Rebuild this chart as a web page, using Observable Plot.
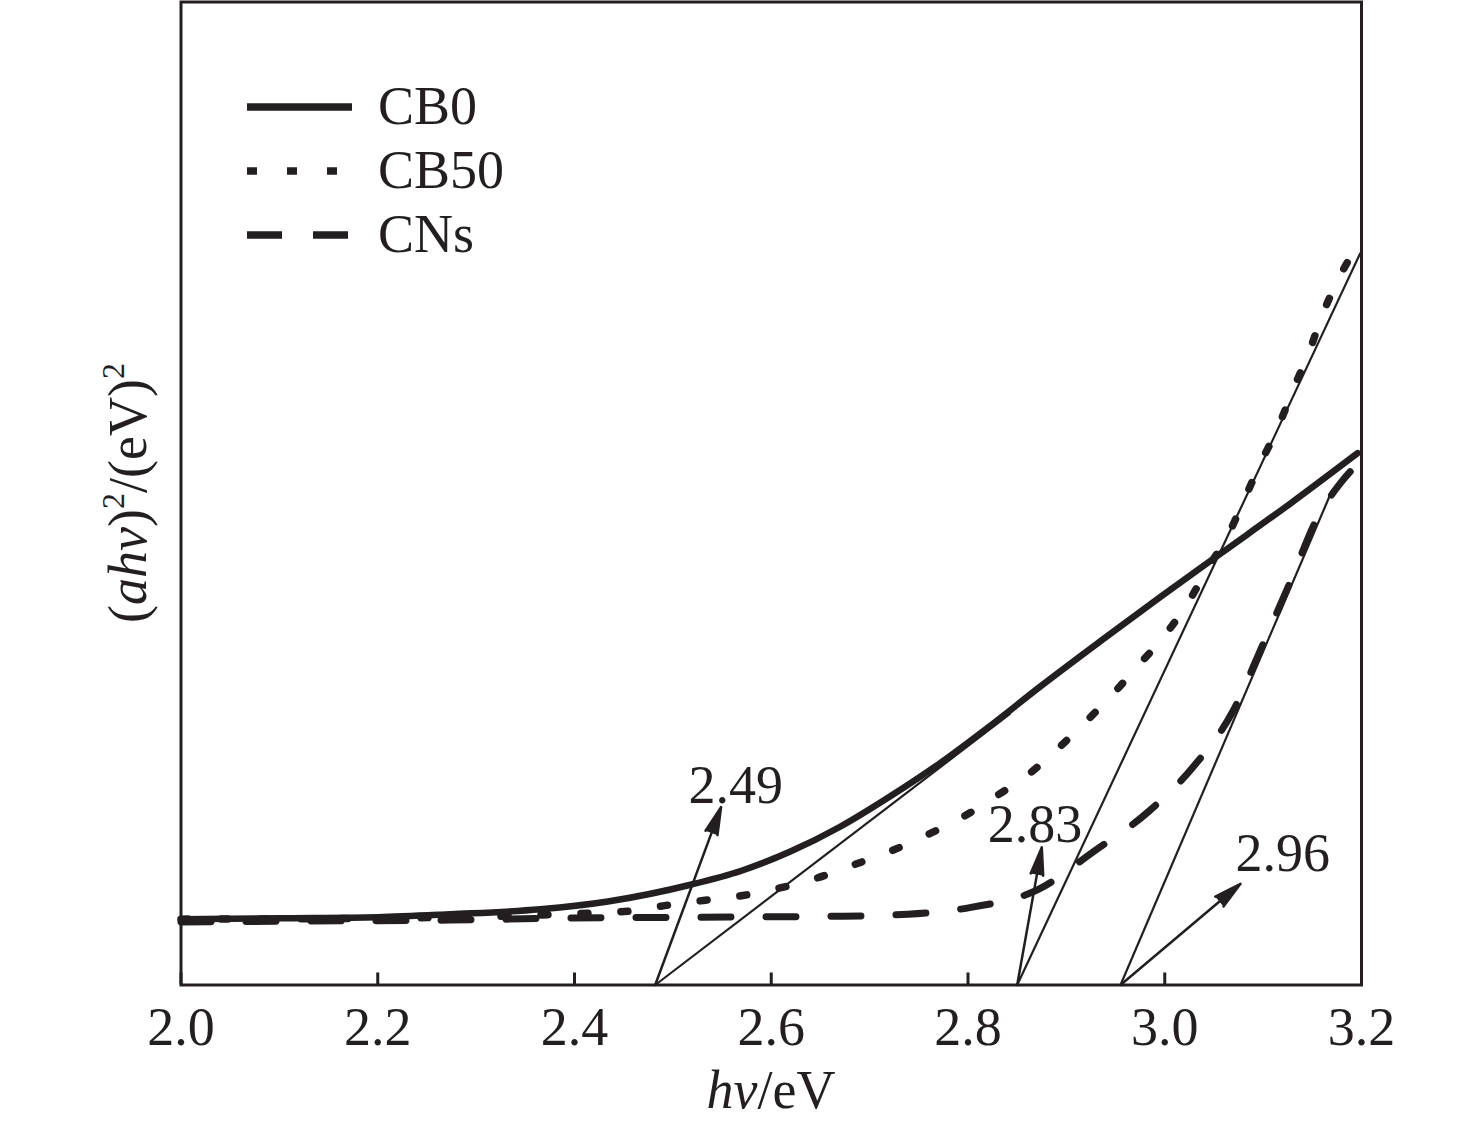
<!DOCTYPE html>
<html lang="en">
<head>
<meta charset="utf-8">
<script src="https://cdn.jsdelivr.net/npm/d3@7"></script>
<script src="https://cdn.jsdelivr.net/npm/@observablehq/plot@0.6"></script>
<style>
html,body{margin:0;padding:0;background:#fff;}
#chart{width:1476px;height:1127px;}
</style>
</head>
<body>
<div id="chart"></div>
<script>
const ink = "#231f20";
const serif = "'Liberation Serif', 'Times New Roman', Times, serif";

// x-axis tick values (eV)
const xTicks = [2.0, 2.2, 2.4, 2.6, 2.8, 3.0, 3.2];

// CB0 (solid)
const cb0Energy = [2.000, 2.101, 2.200, 2.274, 2.365, 2.434, 2.518, 2.569, 2.620, 2.670, 2.721, 2.772, 2.823, 2.874, 2.935, 2.996, 3.057, 3.128, 3.196];
const cb0Value  = [6.7, 6.8, 6.9, 7.2, 7.7, 8.5, 10.2, 11.6, 13.6, 16.1, 19.2, 22.6, 26.4, 30.4, 35.0, 39.5, 43.9, 49.0, 54.1];

// CB50 (dotted)
const cb50Energy = [2.000, 2.200, 2.325, 2.386, 2.454, 2.493, 2.531, 2.571, 2.610, 2.647, 2.686, 2.721, 2.759, 2.795, 2.830, 2.861, 2.892, 2.922, 2.949, 2.975, 3.001, 3.023, 3.045, 3.064, 3.080, 3.097, 3.115, 3.131, 3.146, 3.160, 3.177, 3.197];
const cb50Value  = [6.7, 6.8, 7.0, 7.2, 7.5, 8.1, 8.6, 9.1, 9.9, 10.9, 12.3, 13.6, 15.3, 17.1, 19.3, 21.4, 24.1, 27.0, 29.8, 32.7, 35.7, 38.8, 42.6, 45.7, 49.2, 53.0, 56.7, 60.7, 64.2, 68.1, 71.9, 75.4];

// CNs (dashed)
const cnsEnergy = [2.000, 2.122, 2.274, 2.386, 2.528, 2.671, 2.739, 2.803, 2.871, 2.928, 2.983, 3.029, 3.069, 3.100, 3.128, 3.155, 3.179, 3.197];
const cnsValue  = [6.4, 6.5, 6.6, 6.8, 6.9, 7.0, 7.2, 7.9, 9.7, 13.6, 17.6, 22.2, 27.8, 34.7, 41.1, 47.5, 51.1, 53.1];

// tangent (extrapolation) lines
const tangentStartX = [2.482, 2.850, 2.955];
const tangentEndX   = [2.843, 3.199, 3.170];
const tangentEndY   = [27.6, 74.5, 50.3];

// arrows pointing to band-gap labels
const arrowTipX = [2.549, 2.875, 3.077];
const arrowTipY = [18.1, 14.0, 10.3];

// band-gap labels
const gapLabels = ["2.49", "2.83", "2.96"];
const gapLabelX = [2.516, 2.820, 3.072];
const gapLabelY = [18.5, 14.5, 11.6];

// legend
const legendNames = ["CB0", "CB50", "CNs"];

const toRows = (xs, ys) => xs.map((x, i) => ({x, y: ys[i]}));
const cb0 = toRows(cb0Energy, cb0Value);
const cb50 = toRows(cb50Energy, cb50Value);
const cns = toRows(cnsEnergy, cnsValue);
const tangents = tangentStartX.map((x1, i) => ({x1, y1: 0, x2: tangentEndX[i], y2: tangentEndY[i]}));
const arrows = tangentStartX.map((x1, i) => ({x1, y1: 0, x2: arrowTipX[i], y2: arrowTipY[i]}));
const labels = gapLabels.map((text, i) => ({text, x: gapLabelX[i], y: gapLabelY[i]}));

const plot = Plot.plot({
  width: 1476,
  height: 1127,
  marginLeft: 180.5,
  marginRight: 115,
  marginTop: 1.5,
  marginBottom: 142.5,
  style: {fontFamily: serif, fontSize: "54px", color: ink, background: "#fff", overflow: "visible"},
  x: {domain: [2.0, 3.2]},
  y: {domain: [0, 100], axis: null},
  marks: [
    Plot.line(cns, {x: "x", y: "y", stroke: ink, strokeWidth: 7, strokeDasharray: "30 35", curve: "monotone-x"}),
    Plot.line(cb50, {x: "x", y: "y", stroke: ink, strokeWidth: 7.5, strokeDasharray: "7 33", curve: "monotone-x"}),
    Plot.line(cb0, {x: "x", y: "y", stroke: ink, strokeWidth: 6.5, curve: "monotone-x"}),
    Plot.link(tangents, {x1: "x1", y1: "y1", x2: "x2", y2: "y2", stroke: ink, strokeWidth: 2.2}),
    Plot.arrow(arrows, {x1: "x1", y1: "y1", x2: "x2", y2: "y2", stroke: ink, fill: ink, strokeWidth: 2.5, headLength: 17, headAngle: 26}),
    Plot.text(labels, {x: "x", y: "y", text: "text", textAnchor: "start", lineAnchor: "bottom", fontSize: 54, fill: ink}),
    Plot.axisX({ticks: xTicks, tickFormat: d3.format(".1f"), tickSize: -12, tickPadding: 34, strokeWidth: 3, fontSize: 54, label: null}),
    Plot.frame({stroke: ink, strokeWidth: 3})
  ]
});

document.getElementById("chart").appendChild(plot);

const svg = d3.select(plot);

// legend inside plot area
const legendDash = [null, "10 30", "35 31"];
const legendLen = [105, 90, 101];
legendNames.forEach((name, i) => {
  const g = svg.append("g").attr("transform", `translate(247, ${107 + i * 64})`);
  g.append("line")
    .attr("x1", 0).attr("x2", legendLen[i]).attr("y1", 0).attr("y2", 0)
    .attr("stroke", ink).attr("stroke-width", 7.5)
    .attr("stroke-dasharray", legendDash[i]);
  g.append("text")
    .attr("x", 131).attr("y", 17)
    .attr("text-anchor", "start")
    .attr("fill", ink).attr("font-size", 54).attr("font-family", serif)
    .text(name);
});

// x-axis label
const xl = svg.append("text")
  .attr("x", 771).attr("y", 1108)
  .attr("text-anchor", "middle").attr("fill", ink)
  .attr("font-size", 54).attr("font-family", serif);
xl.append("tspan").attr("font-style", "italic").text("hv");
xl.append("tspan").text("/eV");

// y-axis label
const yl = svg.append("text")
  .attr("transform", "translate(146,493) rotate(-90)")
  .attr("text-anchor", "middle").attr("fill", ink)
  .attr("font-size", 54).attr("font-family", serif);
yl.append("tspan").text("(");
yl.append("tspan").attr("font-style", "italic").text("ahv");
yl.append("tspan").text(")");
yl.append("tspan").attr("font-size", 32).attr("dy", -22).text("2");
yl.append("tspan").attr("dy", 22).text("/(eV)");
yl.append("tspan").attr("font-size", 32).attr("dy", -22).text("2");
</script>
</body>
</html>
